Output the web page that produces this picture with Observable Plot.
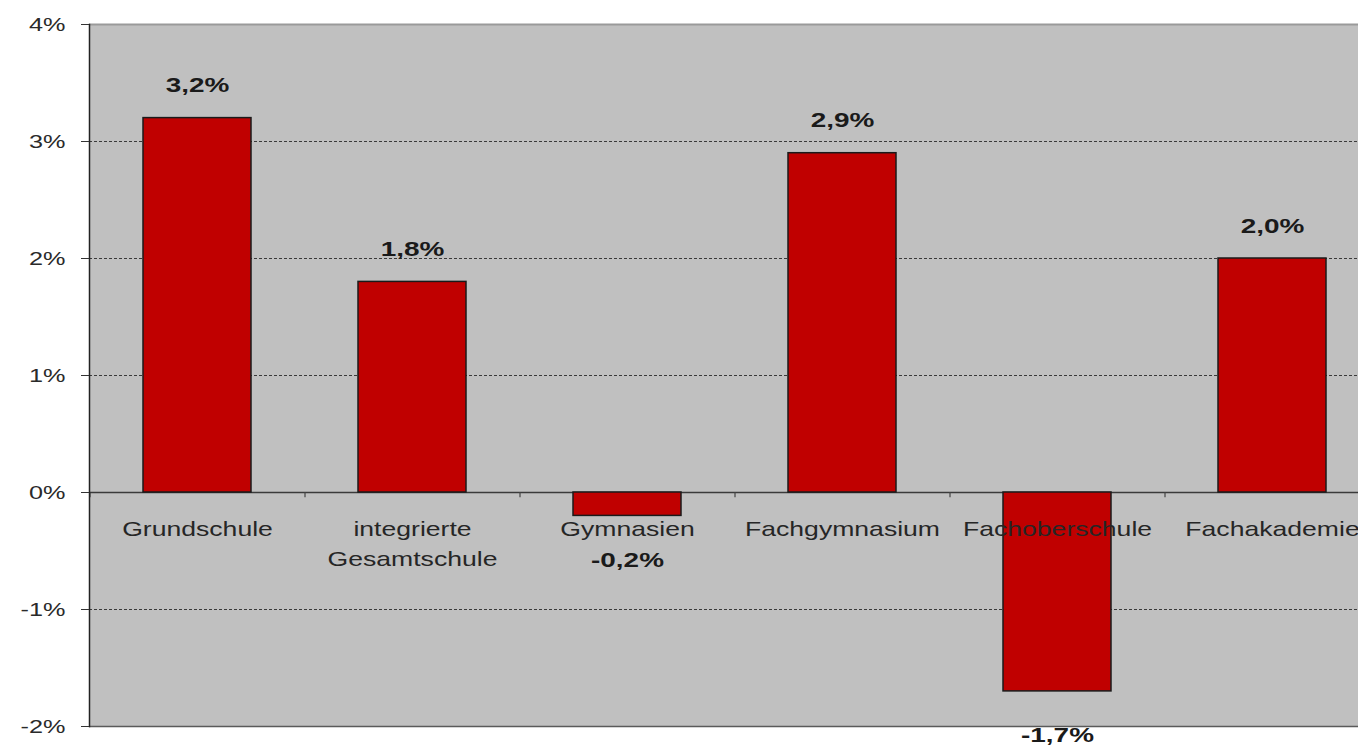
<!DOCTYPE html>
<html><head><meta charset="utf-8">
<script src="https://cdn.jsdelivr.net/npm/d3@7"></script>
<script src="https://cdn.jsdelivr.net/npm/@observablehq/plot@0.6"></script>
<style>html,body{margin:0;padding:0;background:#fff;overflow:hidden}</style>
</head><body><div id="chart"></div>
<script>
const categories = ["Grundschule", "integrierte\nGesamtschule", "Gymnasien", "Fachgymnasium", "Fachoberschule", "Fachakademie"];
const values = [3.2, 1.8, -0.2, 2.9, -1.7, 2.0];
const valueLabels = ["3,2%", "1,8%", "-0,2%", "2,9%", "-1,7%", "2,0%"];
const yTicks = [-2, -1, 0, 1, 2, 3, 4];
const yTickLabels = ["-2%", "-1%", "0%", "1%", "2%", "3%", "4%"];
const gridValues = [-1, 1, 2, 3];

const data = categories.map((c, i) => ({category: c, value: values[i], label: valueLabels[i]}));
const font = "'Liberation Sans', Arial, sans-serif";
const stretch = 1.33;

const chart = Plot.plot({
  width: 1358, height: 745,
  marginTop: 24, marginBottom: 19, marginLeft: 89, marginRight: 0,
  style: {fontFamily: font, background: "#fff", overflow: "hidden"},
  x: {domain: categories, range: [89, 1379], paddingInner: 0.5, paddingOuter: 0.25, axis: null},
  y: {domain: [-2, 4], axis: null},
  marks: [
    Plot.frame({fill: "#c0c0c0", stroke: null}),
    Plot.ruleY(gridValues, {stroke: "#3a3a3a", strokeDasharray: "3,2", strokeWidth: 1}),
    Plot.ruleY([4], {stroke: "#9a9a9a", strokeWidth: 2}),
    Plot.ruleY([-2], {stroke: "#5a5a5a", strokeWidth: 1.5}),
    Plot.ruleY([0], {stroke: "#3a3a3a", strokeWidth: 1.5}),
    Plot.ruleX(categories, {x: d => d, y1: 0, y2: -0.045, dx: -107.5, stroke: "#444", strokeWidth: 1.2}),
    Plot.barY(data, {x: "category", y: "value", fill: "#c00000", stroke: "#1a1a1a", strokeWidth: 1.5}),
    Plot.frame({anchor: "left", stroke: "#222", strokeWidth: 1.5}),
    Plot.axisY({
      ticks: yTicks,
      tickFormat: d => yTickLabels[yTicks.indexOf(d)],
      tickSize: 8, tickPadding: 16, label: null,
      fontSize: 19, color: "#2a2a2a", stroke: "#333"
    }),
    Plot.text(data, {x: "category", y: 0, text: "category", dy: 21, lineAnchor: "top", lineHeight: 1.55, fontSize: 20, fill: "#262626"}),
    Plot.text(data.filter(d => d.value >= 0), {x: "category", y: "value", text: "label", lineAnchor: "bottom", dy: -26, fontSize: 21, fontWeight: "bold", fill: "#1a1a1a"}),
    Plot.text(data.filter(d => d.value < 0), {x: "category", y: "value", text: "label", lineAnchor: "top", dy: 36, fontSize: 21, fontWeight: "bold", fill: "#1a1a1a"})
  ]
});

chart.querySelectorAll("text").forEach(t => {
  const tr = t.getAttribute("transform");
  if (tr) t.setAttribute("transform", tr + ` scale(${stretch},1)`);
  else {
    const x = +t.getAttribute("x") || 0, y = +t.getAttribute("y") || 0;
    t.setAttribute("transform", `translate(${x},${y}) scale(${stretch},1) translate(${-x},${-y})`);
  }
});

document.getElementById("chart").appendChild(chart);
</script>
</body></html>
